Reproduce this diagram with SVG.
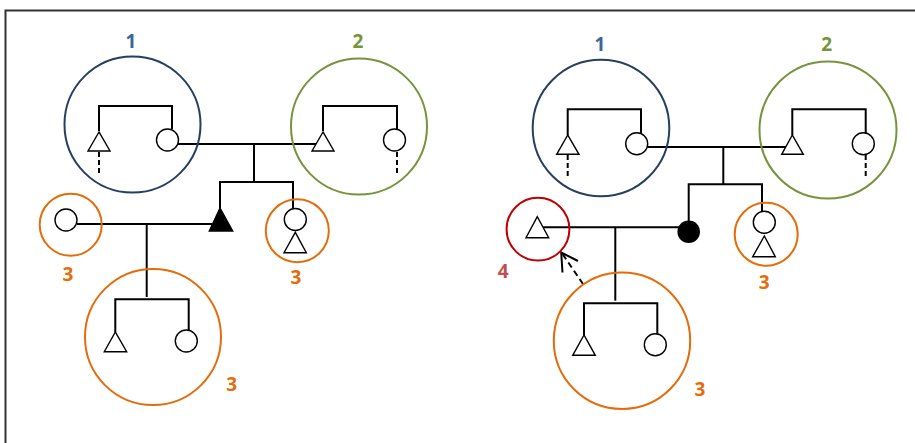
<svg xmlns="http://www.w3.org/2000/svg" width="915" height="443" viewBox="0 0 915 443">
<style>
.ln{stroke:#000;stroke-width:2;fill:none}
.dash{stroke:#000;stroke-width:2;fill:none;stroke-dasharray:5,3}
.adash{stroke:#000;stroke-width:2;fill:none;stroke-dasharray:6,4}
.sym{stroke:#000;stroke-width:1.4;fill:#fff}
.g1{stroke:#243F60;stroke-width:2;fill:none}
.g2{stroke:#77933C;stroke-width:2;fill:none}
.g3{stroke:#E46C0A;stroke-width:2;fill:none}
.g4{stroke:#C00000;stroke-width:2;fill:none}
.lbl{font-family:"Open Sans","Liberation Sans",sans-serif;font-weight:bold;font-size:19px;text-anchor:middle}
</style>
<rect x="0" y="0" width="915" height="443" fill="#fff"/>
<path d="M5.5,443 V10.5 H915" stroke="#333" stroke-width="2" fill="none"/>

<g id="connectors">
  <!-- left diagram -->
  <path class="ln" d="M99,131 V106 H172 V129"/>
  <path class="dash" d="M99,152 V173"/>
  <path class="ln" d="M323,131 V106 H397 V129"/>
  <path class="dash" d="M397,152 V173"/>
  <path class="ln" d="M178,144 H318"/>
  <path class="ln" d="M254,144 V182"/>
  <path class="ln" d="M220,208 V182 H293 V208"/>
  <path class="ln" d="M77,224 H213"/>
  <path class="ln" d="M146.7,224 V297"/>
  <path class="ln" d="M115.3,332 V299.3 H188.7 V330"/>
  <!-- right diagram -->
  <path class="ln" d="M567.7,135 V109.3 H641 V133"/>
  <path class="dash" d="M567.7,155 V176"/>
  <path class="ln" d="M792.3,135 V109.3 H865.7 V133"/>
  <path class="dash" d="M865.7,155 V176"/>
  <path class="ln" d="M647.3,147 H787"/>
  <path class="ln" d="M723.3,147 V184.3"/>
  <path class="ln" d="M688.7,221 V184.3 H762 V212"/>
  <path class="ln" d="M543.3,227.3 H680"/>
  <path class="ln" d="M615.3,227.3 V300.7"/>
  <path class="ln" d="M584,335 V303.3 H657.3 V334"/>
  <path class="adash" d="M583,284 L562.5,254"/>
  <path class="ln" d="M578,261 L561.2,252.5 L562.5,272.5"/>
</g>

<g id="left-group1">
  <circle class="g1" cx="132.5" cy="124.5" r="68"/>
  <polygon class="sym" points="99,132 88,151 110,151"/>
  <circle class="sym" cx="167.5" cy="140" r="11"/>
  <text class="lbl" x="131" y="48" fill="#3D659A">1</text>
</g>
<g id="left-group2">
  <circle class="g2" cx="359" cy="126.5" r="68"/>
  <polygon class="sym" points="323,132 312,151 334,151"/>
  <circle class="sym" cx="394.5" cy="140" r="11"/>
  <text class="lbl" x="358" y="48" fill="#77933C">2</text>
</g>
<g id="left-group3a">
  <circle class="g3" cx="70.7" cy="224.7" r="31"/>
  <circle class="sym" cx="66" cy="220" r="11"/>
  <text class="lbl" x="68" y="280.5" fill="#E46C0A">3</text>
</g>
<g id="left-proband">
  <polygon points="220,208 209.3,231 232.7,231" fill="#000" stroke="#000" stroke-width="1.4"/>
</g>
<g id="left-group3b">
  <circle class="g3" cx="297.3" cy="230.7" r="31.5"/>
  <circle class="sym" cx="295.3" cy="219.5" r="11"/>
  <polygon class="sym" points="295.3,232.3 284,252.7 306.3,252.7"/>
  <text class="lbl" x="296" y="284" fill="#E46C0A">3</text>
</g>
<g id="left-group3c">
  <circle class="g3" cx="153" cy="337" r="68"/>
  <polygon class="sym" points="115.3,332 104.3,351.7 126.7,351.7"/>
  <circle class="sym" cx="186.3" cy="341" r="11"/>
  <text class="lbl" x="231.7" y="391" fill="#E46C0A">3</text>
</g>

<g id="right-group1">
  <circle class="g1" cx="601" cy="128" r="68.3"/>
  <polygon class="sym" points="567.7,135 556.7,154.3 579,154.3"/>
  <circle class="sym" cx="636.7" cy="143.7" r="11"/>
  <text class="lbl" x="600" y="51" fill="#3D659A">1</text>
</g>
<g id="right-group2">
  <circle class="g2" cx="828" cy="130" r="68.5"/>
  <polygon class="sym" points="792.3,135 781.7,154.3 803.3,154.3"/>
  <circle class="sym" cx="863.3" cy="143.7" r="11"/>
  <text class="lbl" x="826.7" y="51" fill="#77933C">2</text>
</g>
<g id="right-group4">
  <circle class="g4" cx="538" cy="229.2" r="31.4"/>
  <polygon class="sym" points="537.3,216.7 526,237.7 548.7,237.7"/>
  <text class="lbl" x="503.3" y="277.5" fill="#C0504D">4</text>
</g>
<g id="right-proband">
  <circle cx="688.7" cy="231.7" r="11.3" fill="#000"/>
</g>
<g id="right-group3b">
  <circle class="g3" cx="766.2" cy="234.2" r="31.5"/>
  <circle class="sym" cx="764.3" cy="222.3" r="11"/>
  <polygon class="sym" points="764.3,236 752.7,256.7 775.3,256.7"/>
  <text class="lbl" x="764.3" y="289" fill="#E46C0A">3</text>
</g>
<g id="right-group3c">
  <circle class="g3" cx="622" cy="340.8" r="68.2"/>
  <polygon class="sym" points="584,335 572.7,355.3 595.3,355.3"/>
  <circle class="sym" cx="655.3" cy="344.7" r="11"/>
  <text class="lbl" x="700" y="395.7" fill="#E46C0A">3</text>
</g>
</svg>
